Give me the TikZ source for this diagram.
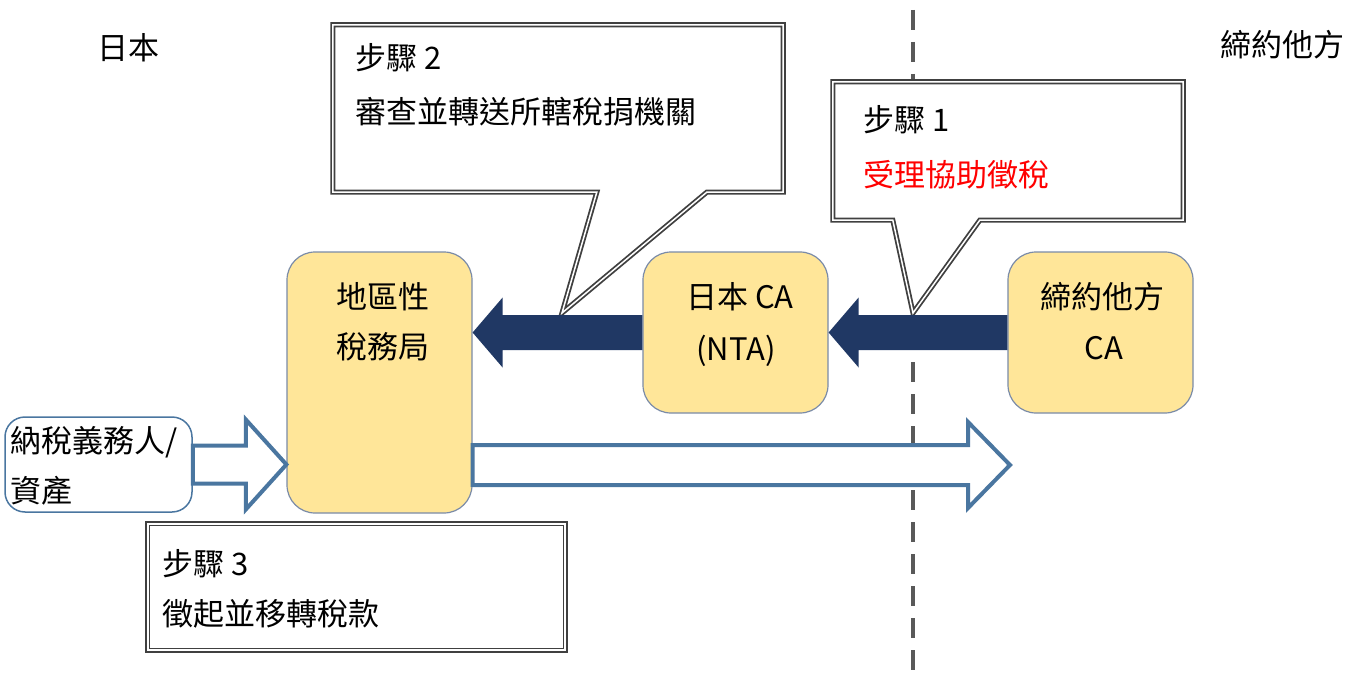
\documentclass[tikz,border=0pt]{standalone}
\usepackage{fontspec}
\setmainfont{Noto Sans CJK TC}
\usetikzlibrary{calc}
\definecolor{yfill}{HTML}{FFE699}
\definecolor{yborder}{HTML}{7A8BA8}
\definecolor{navyc}{HTML}{203864}
\definecolor{sblue}{HTML}{4A76A0}
\definecolor{dgray}{HTML}{595959}
\definecolor{cgray}{HTML}{404040}
\definecolor{redt}{HTML}{FF0000}
\begin{document}
\begin{tikzpicture}[x=1pt,y=-1pt,
  txt/.style={font=\fontsize{31}{36}\selectfont, inner sep=0pt},
  ybox/.style={draw=yborder, line width=1.2pt, fill=yfill, rounded corners=28pt, minimum width=185pt, inner sep=0pt},
  callout/.style={draw=cgray, double=white, line width=1.8pt, double distance=1.5pt, fill=white, line join=miter},
  hollow/.style={draw=sblue, line width=4pt, fill=white, line join=miter},
  navyarrow/.style={fill=navyc},
  divider/.style={draw=dgray, line width=4pt, dash pattern=on 20pt off 12pt}]
\useasboundingbox (0,0) rectangle (1357,679);

% dividing line
\coordinate (dtop) at (913,10);
\coordinate (dbot) at (913,679);
\draw[divider] (dtop) -- (dbot);

% callout bodies (placeholders for names)
\node[minimum width=450pt, minimum height=167pt, inner sep=0pt] (c2) at (558,108.5) {};
\node[minimum width=350pt, minimum height=138pt, inner sep=0pt] (c1) at (1008,151) {};
\node[minimum width=417pt, minimum height=126pt, inner sep=0pt] (c3) at (356.5,587) {};
\coordinate (tip2) at (562,313);
\coordinate (tip1) at (913,313);

\draw[callout] (c2.north west) -- (c2.north east) -- (c2.south east) -- ($(c2.south west)+(374,0)$) -- (tip2) -- ($(c2.south west)+(264,0)$) -- (c2.south west) -- cycle;
\draw[callout] (c1.north west) -- (c1.north east) -- (c1.south east) -- ($(c1.south west)+(147,0)$) -- (tip1) -- ($(c1.south west)+(60,0)$) -- (c1.south west) -- cycle;
\draw[callout] (c3.north west) rectangle (c3.south east);

% boxes
\node[ybox, minimum height=261pt] (loc) at (379.5,382.5) {};
\node[ybox, minimum height=161pt] (jca) at (735.5,332.5) {};
\node[ybox, minimum height=161pt] (cp) at (1100.5,332.5) {};
\node[draw=sblue, line width=1.5pt, fill=white, rounded corners=20pt, minimum width=187pt, minimum height=95pt, inner sep=0pt] (tp) at (98.5,464.5) {};

% navy arrows
\fill[navyarrow] ($(cp.west)+(0,-17.5)$) -- ($(jca.east)+(30,-17.5)$) -- ($(jca.east)+(30,-35)$) -- (jca.east) -- ($(jca.east)+(30,35)$) -- ($(jca.east)+(30,17.5)$) -- ($(cp.west)+(0,17.5)$) -- cycle;
\fill[navyarrow] ($(jca.west)+(0,-17.5)$) -- ($(loc.east |- jca.west)+(30,-17.5)$) -- ($(loc.east |- jca.west)+(30,-35)$) -- (loc.east |- jca.west) -- ($(loc.east |- jca.west)+(30,35)$) -- ($(loc.east |- jca.west)+(30,17.5)$) -- ($(jca.west)+(0,17.5)$) -- cycle;

% hollow arrows
\coordinate (tipR) at (1010,465);
\draw[hollow] ($(tp.east)+(0,-19)$) -- ($(tp.east)+(53,-19)$) -- ($(tp.east)+(53,-45)$) -- (loc.west |- tp.east) -- ($(tp.east)+(53,45)$) -- ($(tp.east)+(53,19)$) -- ($(tp.east)+(0,19)$) -- cycle;
\draw[hollow] ($(loc.east |- tipR)+(0,-20)$) -- ($(tipR)+(-42,-20)$) -- ($(tipR)+(-42,-43)$) -- (tipR) -- ($(tipR)+(-42,43)$) -- ($(tipR)+(-42,20)$) -- ($(loc.east |- tipR)+(0,20)$) -- cycle;

% texts
\node[txt, anchor=base] (lbJ) at (128,60) {日本};
\node[txt, anchor=base] (lbO) at (1282,57) {締約他方};

\node[txt, anchor=base west] (t2a) at (355,70) {步驟 2};
\node[txt, anchor=base west] (t2b) at (355,124) {審查並轉送所轄稅捐機關};
\node[txt, anchor=base west] (t1a) at (863,132) {步驟 1};
\node[txt, anchor=base west, text=redt] (t1b) at (863,187) {受理協助徵稅};
\node[txt, anchor=base west] (t3a) at (162,575) {步驟 3};
\node[txt, anchor=base west] (t3b) at (162,625) {徵起並移轉稅款};

\node[txt, anchor=base] (loc1) at (383,308) {地區性};
\node[txt, anchor=base] (loc2) at (383,358) {稅務局};
\node[txt, anchor=base] (jca1) at (740,308) {日本 CA};
\node[txt, anchor=base] (jca2) at (736,360) {(NTA)};
\node[txt, anchor=base] (cp1) at (1102,308) {締約他方};
\node[txt, anchor=base] (cp2) at (1104,359) {CA};
\node[txt, anchor=base west] (tp1) at (10,452) {納稅義務人/};
\node[txt, anchor=base west] (tp2) at (10,502) {資產};
\end{tikzpicture}
\end{document}
